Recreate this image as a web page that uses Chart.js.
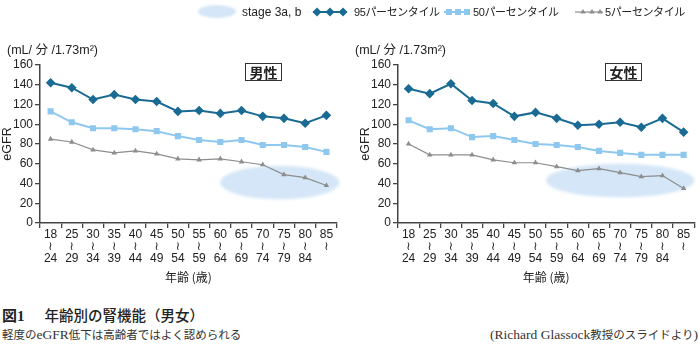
<!DOCTYPE html>
<html><head><meta charset="utf-8">
<script src="https://cdn.jsdelivr.net/npm/chart.js@4"></script>
<style>
html,body{margin:0;padding:0;background:#fff;}
body{width:699px;height:356px;position:relative;overflow:hidden;font-family:"Liberation Sans",Arial,"Noto Sans CJK JP",sans-serif;color:#222;}
canvas{position:absolute;top:0;}
.abs{position:absolute;white-space:nowrap;}
.unit{font-size:12.5px;top:42px;line-height:16px;}
.sex{position:absolute;top:63px;width:35px;height:16px;border:1.5px solid #333;background:#fff;font:bold 14px "Noto Sans CJK JP",sans-serif;text-align:center;line-height:16px;}
.lg{font-size:11px;letter-spacing:-0.4px;top:5px;line-height:14px;font-family:"Liberation Sans",Arial,"Noto Sans CJK JP",sans-serif;}
svg{position:absolute;overflow:visible;}
.cap1{top:306px;font-size:14.5px;line-height:18px;font-family:"Noto Sans CJK JP",sans-serif;font-weight:500;}
.cap2{top:326px;font-size:11.5px;line-height:16px;font-family:"Noto Sans CJK JP",serif;color:#333;}
.lat{font-family:"Liberation Serif",serif;font-size:13.5px;}
</style>
</head><body>
<canvas id="male" width="350" height="300" style="left:0"></canvas>
<canvas id="female" width="341" height="300" style="left:358px"></canvas>

<div class="abs unit" style="left:7px">(mL/ 分 /1.73m²)</div>
<div class="abs unit" style="left:355px">(mL/ 分 /1.73m²)</div>
<div class="sex" style="left:245px">男性</div>
<div class="sex" style="left:605px">女性</div>

<!-- legend -->
<div class="abs" style="left:198px;top:5px;width:38px;height:13px;border-radius:50%;background:#d4e6f7;filter:blur(1px)"></div>
<div class="abs lg" style="left:242px;font-size:12px;letter-spacing:0">stage 3a, b</div>
<svg style="left:313px;top:12px" width="34" height="1">
  <line x1="0" y1="0" x2="34" y2="0" stroke="#1a6b93" stroke-width="2"/>
  <polygon points="4,-4.5 8.5,0 4,4.5 -0.5,0" fill="#1a6b93"/>
  <polygon points="17,-4.5 21.5,0 17,4.5 12.5,0" fill="#1a6b93"/>
  <polygon points="30,-4.5 34.5,0 30,4.5 25.5,0" fill="#1a6b93"/>
</svg>
<div class="abs lg" style="left:354px">95パーセンタイル</div>
<svg style="left:444px;top:12px" width="26" height="1">
  <line x1="0" y1="0" x2="26" y2="0" stroke="#8ec8ef" stroke-width="2"/>
  <rect x="2" y="-3" width="6" height="6" fill="#8ec8ef"/>
  <rect x="11" y="-3" width="6" height="6" fill="#8ec8ef"/>
  <rect x="20" y="-3" width="6" height="6" fill="#8ec8ef"/>
</svg>
<div class="abs lg" style="left:473px">50パーセンタイル</div>
<svg style="left:575px;top:12px" width="28" height="1">
  <line x1="0" y1="0" x2="28" y2="0" stroke="#8d8d8d" stroke-width="1.2"/>
  <polygon points="8,-3 10.8,1.6 5.2,1.6" fill="#8d8d8d"/>
  <polygon points="17,-3 19.8,1.6 14.2,1.6" fill="#8d8d8d"/>
  <polygon points="25,-3 27.8,1.6 22.2,1.6" fill="#8d8d8d"/>
</svg>
<div class="abs lg" style="left:605px">5パーセンタイル</div>

<!-- caption -->
<div class="abs cap1" style="left:2px"><span style="font-family:'Liberation Serif','Noto Sans CJK JP',serif;font-weight:bold;font-size:15px">図1</span><span style="display:inline-block;width:20px"></span>年齢別の腎機能（男女）</div>
<div class="abs cap2" style="left:2px">軽度の<span class="lat">eGFR</span>低下は高齢者ではよく認められる</div>
<div class="abs cap2" style="right:1px"><span class="lat">(Richard Glassock</span>教授のスライドより<span class="lat">)</span></div>

<script>
// ---- data ----
const ageFrom = ['18','25','30','35','40','45','50','55','60','65','70','75','80','85'];
const ageTo   = ['24','29','34','39','44','49','54','59','64','69','74','79','84',''];

const male95 = [142,137,125,130,125,123,113,114,111,114,108,106,101,109];
const male50 = [113,102,96,96,95,93,88,84,82,84,79,79,77,72];
const male5  = [85,82,74,71,73,70,65,64,65,62,59,49,46,38];

const female95 = [136,131,141,124,121,108,112,106,99,100,102,97,106,92];
const female50 = [104,95,96,87,88,84,80,79,77,73,71,69,69,69];
const female5  = [80,69,69,69,64,61,61,57,53,55,51,47,48,35];

const yMin = 0, yMax = 160, yStep = 20;

// stage 3a,b highlight regions (data space: category index, eGFR value)
const maleStage   = {index:10.8, value:41, halfCats:2.8, halfValue:17};
const femaleStage = {index:10.0, value:43, halfCats:3.5, halfValue:17};

// ---- drawing ----
const C95 = '#1a6b93', C50 = '#8ec8ef', C5 = '#8d8d8d', AX = '#444';
const labels = ageFrom.map((a,i)=>[a,'≀',ageTo[i]]);

const stagePlugin = {
  id:'stage',
  beforeDatasetsDraw(chart, args, o){
    const {ctx, scales:{x,y}} = chart;
    const cx = x.getPixelForValue(o.index);
    const step = x.getPixelForValue(1) - x.getPixelForValue(0);
    const rx = o.halfCats*step;
    const cy = y.getPixelForValue(o.value);
    const ry = Math.abs(y.getPixelForValue(o.value+o.halfValue)-cy);
    ctx.save();
    ctx.filter = 'blur(1.5px)';
    ctx.fillStyle = '#d4e6f7';
    ctx.beginPath();
    ctx.ellipse(cx,cy,rx,ry,0,0,Math.PI*2);
    ctx.fill();
    ctx.restore();
  }
};

function make(id, d95, d50, d5, stage, padRight){
  return new Chart(document.getElementById(id), {
    type:'line',
    data:{labels, datasets:[
      {data:d5, borderColor:C5, backgroundColor:C5, borderWidth:1.2, pointStyle:'triangle', pointRadius:3.2, pointBorderWidth:0, tension:0},
      {data:d50, borderColor:C50, backgroundColor:C50, borderWidth:2, pointStyle:'rect', pointRadius:4.3, pointBorderWidth:0, tension:0},
      {data:d95, borderColor:C95, backgroundColor:C95, borderWidth:2, pointStyle:'rectRot', pointRadius:4.8, pointBorderWidth:0, tension:0}
    ]},
    options:{
      responsive:false, animation:false, devicePixelRatio:1,
      layout:{padding:{left:0, right:padRight, top:65, bottom:0}},
      plugins:{legend:{display:false}, tooltip:{enabled:false}, stage},
      scales:{
        x:{
          offset:true,
          grid:{offset:true, drawOnChartArea:false, tickLength:5, color:AX, lineWidth:1.3},
          border:{color:AX, width:1.5},
          ticks:{color:'#222', font:{size:12, family:'"Liberation Sans", Arial, "DejaVu Sans"', lineHeight:1}, padding:1, autoSkip:false, maxRotation:0},
          title:{display:true, text:'年齢 (歳)', color:'#222', font:{size:12, family:'"Noto Sans CJK JP", sans-serif'}, padding:{top:0, bottom:15}},
          afterFit(s){ s.height = 77; }
        },
        y:{
          min:yMin, max:yMax,
          ticks:{stepSize:yStep, color:'#222', font:{size:12, family:'"Liberation Sans", Arial'}, padding:2},
          grid:{drawOnChartArea:false, tickLength:5, color:AX, lineWidth:1.3},
          border:{color:AX, width:1.5},
          title:{display:true, text:'eGFR', color:'#222', font:{size:12.5, family:'"Liberation Sans", Arial'}, padding:{top:0, bottom:0}},
          afterFit(s){ s.width = 40; }
        }
      }
    },
    plugins:[stagePlugin]
  });
}

make('male', male95, male50, male5, maleStage, 13);
make('female', female95, female50, female5, femaleStage, 2);
</script>
</body></html>
